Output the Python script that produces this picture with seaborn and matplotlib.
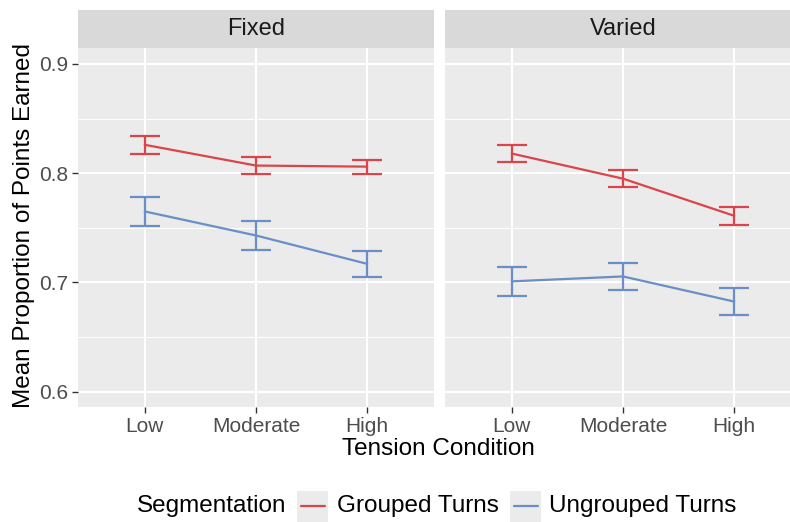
import matplotlib
matplotlib.use("Agg")
import matplotlib.pyplot as plt
from matplotlib.lines import Line2D
from matplotlib.patches import Rectangle
import pandas as pd
import seaborn as sns

# Mean proportion of points earned, by tension level, segmentation and schedule
tension = ["Low", "Moderate", "High"]
panels = ["Fixed", "Varied"]
segmentation = ["Grouped Turns", "Ungrouped Turns"]

fixed_grouped = [0.826, 0.807, 0.806]
fixed_grouped_se = [0.0085, 0.0075, 0.0065]
fixed_ungrouped = [0.765, 0.743, 0.717]
fixed_ungrouped_se = [0.0135, 0.013, 0.012]
varied_grouped = [0.818, 0.795, 0.761]
varied_grouped_se = [0.008, 0.008, 0.008]
varied_ungrouped = [0.701, 0.7055, 0.6825]
varied_ungrouped_se = [0.0135, 0.012, 0.012]

y_ticks = [0.6, 0.7, 0.8, 0.9]
y_tick_labels = ["0.6", "0.7", "0.8", "0.9"]

colors = {"Grouped Turns": "#D9454B", "Ungrouped Turns": "#6A8EC6"}

rows = []
for panel, series in zip(panels, [
    [(fixed_grouped, fixed_grouped_se), (fixed_ungrouped, fixed_ungrouped_se)],
    [(varied_grouped, varied_grouped_se), (varied_ungrouped, varied_ungrouped_se)],
]):
    for seg, (means, ses) in zip(segmentation, series):
        for i, t in enumerate(tension):
            rows.append({"Schedule": panel, "Segmentation": seg, "Tension": t,
                         "pos": i, "mean": means[i], "se": ses[i]})
df = pd.DataFrame(rows)

sns.set_theme(style="darkgrid")
plt.rcParams["font.family"] = ["Liberation Sans", "DejaVu Sans"]

W, H = 790, 522
fig = plt.figure(figsize=(W / 100, H / 100), dpi=100)

panel_bg = "#EBEBEB"
strip_bg = "#D9D9D9"
tick_col = "#4D4D4D"

lefts = [78, 445]
pw = 356
top_px, bottom_px = 48, 407
strip_top = 10

for k, panel in enumerate(panels):
    ax = fig.add_axes([lefts[k] / W, 1 - bottom_px / H, pw / W, (bottom_px - top_px) / H])
    sub = df[df["Schedule"] == panel]
    sns.lineplot(data=sub, x="pos", y="mean", hue="Segmentation", palette=colors,
                 hue_order=segmentation, ax=ax, linewidth=1.6, legend=False,
                 errorbar=None, sort=False)
    for seg in segmentation:
        s = sub[sub["Segmentation"] == seg]
        ax.errorbar(s["pos"], s["mean"], yerr=s["se"], fmt="none",
                    ecolor=colors[seg], elinewidth=1.6, capsize=11, capthick=1.6)
    ax.set_facecolor(panel_bg)
    ax.set_xlim(-0.6, 2.6)
    ax.set_ylim(0.586, 0.9146)
    ax.set_xticks(range(len(tension)))
    ax.set_xticklabels(tension)
    ax.set_yticks(y_ticks)
    ax.set_yticks([0.65, 0.75, 0.85], minor=True)
    ax.grid(which="major", color="white", linewidth=1.5)
    ax.grid(which="minor", color="white", linewidth=0.7)
    ax.set_axisbelow(True)
    for sp in ax.spines.values():
        sp.set_visible(False)
    ax.set_xlabel("")
    ax.set_ylabel("")
    ax.tick_params(axis="x", which="major", length=4, width=1, color="#333333",
                   labelsize=15, labelcolor=tick_col, pad=3, bottom=True)
    ax.tick_params(axis="y", which="major", length=4, width=1, color="#333333",
                   labelsize=15, labelcolor=tick_col, pad=3, left=True)
    ax.tick_params(axis="y", which="minor", length=0)
    if k == 0:
        ax.set_yticklabels(y_tick_labels)
    else:
        ax.set_yticklabels([])
        ax.tick_params(axis="y", which="major", length=0)

    # facet strip
    sax = fig.add_axes([lefts[k] / W, 1 - top_px / H, pw / W, (top_px - strip_top) / H])
    sax.set_facecolor(strip_bg)
    sax.set_xticks([])
    sax.set_yticks([])
    for sp in sax.spines.values():
        sp.set_visible(False)
    sax.grid(False)
    sax.text(0.5, 0.5, panel, ha="center", va="center", fontsize=17,
             color="#1A1A1A", transform=sax.transAxes)

fig.text(438 / W, 1 - 449 / H, "Tension Condition", ha="center", va="center",
         fontsize=17.5, color="black")
fig.text(24 / W, 1 - 226 / H, "Mean Proportion of Points Earned", ha="center",
         va="center", rotation=90, fontsize=17.5, color="black")

# legend along the bottom
ly = 1 - 506 / H
fig.text(137 / W, ly, "Segmentation", ha="left", va="center", fontsize=17.5, color="black")
key_items = [(297, 337, "Grouped Turns"), (510, 549, "Ungrouped Turns")]
for kx, tx, seg in key_items:
    fig.patches.append(Rectangle((kx / W, 1 - 522 / H), 31 / W, 31 / H,
                                 transform=fig.transFigure, facecolor=panel_bg,
                                 edgecolor="none"))
    fig.lines.append(Line2D([(kx + 4) / W, (kx + 28) / W], [ly, ly],
                            transform=fig.transFigure, color=colors[seg], linewidth=1.6))
    fig.text(tx / W, ly, seg, ha="left", va="center", fontsize=17.5, color="black")

fig.savefig("out.png", dpi=100)
